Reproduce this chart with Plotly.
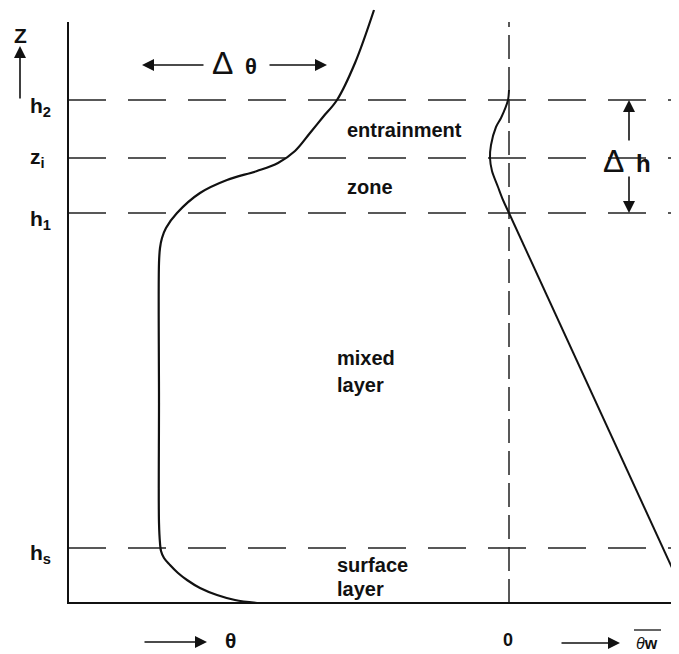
import plotly.graph_objects as go

# ---------------- data (diagram units: x across, z = height above ground) ----------
# mean potential temperature profile Θ(z)
theta_x = [257, 235, 217, 200, 187, 178, 170, 164, 161, 160, 159, 159, 159, 160, 162, 166,
           177, 200, 227, 257, 278, 295, 310, 323, 337, 355, 374]
theta_z = [0, 3, 8, 15, 23, 30, 38, 45, 52, 60, 80, 200, 340, 355, 365, 375,
           390, 410, 423, 432, 440, 452, 470, 486, 503, 540, 593]

# heat flux profile  θw(z)
flux_curve_x = [509, 508, 501, 496, 491, 490, 492, 498, 503, 509]
flux_curve_z = [513, 503, 485, 476, 458, 445, 432, 416, 403, 390]
flux_line_x = [509, 663, 679]
flux_line_z = [390, 55, 20]

# characteristic heights
level_names = ["h<sub>2</sub>", "z<sub>i</sub>", "h<sub>1</sub>", "h<sub>s</sub>"]
level_z = [503, 445, 390, 55]

# region labels
region_text = ["entrainment", "zone", "mixed", "layer", "surface", "layer"]
region_z = [473, 416, 245, 218, 38, 14]

flux_zero = 509
axis_left = 68
axis_top = 581
x_max = 679

FONT = "Liberation Sans, Arial, sans-serif"
INK = "#111111"

fig = go.Figure()

# horizontal dashed levels
for z in level_z:
    fig.add_trace(go.Scatter(x=[axis_left, x_max], y=[z, z], mode="lines",
                             line=dict(color="#222", width=1.5, dash="38px,22px"),
                             hoverinfo="skip", showlegend=False))

# vertical dashed zero line for flux
fig.add_trace(go.Scatter(x=[flux_zero, flux_zero], y=[0, axis_top], mode="lines",
                         line=dict(color="#222", width=1.5, dash="24px,8px"),
                         hoverinfo="skip", showlegend=False))

# axes lines
fig.add_trace(go.Scatter(x=[axis_left, axis_left, x_max], y=[axis_top, 0, 0], mode="lines",
                         line=dict(color=INK, width=2), hoverinfo="skip", showlegend=False))

# theta profile
fig.add_trace(go.Scatter(x=theta_x, y=theta_z, mode="lines",
                         line=dict(color=INK, width=2.2, shape="spline", smoothing=1.0),
                         hoverinfo="skip", showlegend=False))

# flux profile: curved part in the entrainment zone, straight part below
fig.add_trace(go.Scatter(x=flux_curve_x, y=flux_curve_z, mode="lines",
                         line=dict(color=INK, width=2, shape="spline", smoothing=0.8),
                         hoverinfo="skip", showlegend=False))
fig.add_trace(go.Scatter(x=flux_line_x, y=flux_line_z, mode="lines",
                         line=dict(color=INK, width=2),
                         hoverinfo="skip", showlegend=False))

ann = []


def text(x, y, t, size=20, bold=True, xanchor="left", yanchor="middle"):
    ann.append(dict(x=x, y=y, xref="x", yref="y", text=(f"<b>{t}</b>" if bold else t),
                    showarrow=False, xanchor=xanchor, yanchor=yanchor,
                    font=dict(family=FONT, size=size, color=INK)))


def arrow(x0, y0, x1, y1):
    # tail (x0,y0) -> tip (x1,y1)
    ann.append(dict(x=x1, y=y1, ax=x0, ay=y0, xref="x", yref="y", axref="x", ayref="y",
                    text="", showarrow=True, arrowhead=2, arrowsize=1.5, arrowwidth=1.6,
                    arrowcolor=INK))


# Z axis label and arrow
text(20, 568, "Z", size=21, xanchor="center")
arrow(20, 503, 20, 557)

# level labels
label_offsets = [-7, 0, -7, -6]
for name, z, dz in zip(level_names, level_z, label_offsets):
    text(28, z + dz, name, size=21)

# region labels
region_x = [345, 345, 335, 335, 335, 335]
for t, x, z in zip(region_text, region_x, region_z):
    text(x, z, t, size=20)

# Δθ
arrow(205, 538, 142, 538)
arrow(268, 538, 327, 538)
text(222, 540, "Δ", size=32, bold=False, xanchor="center")
text(251, 537, "θ", size=22, xanchor="center")

# Δh
arrow(629, 461, 629, 503)
arrow(629, 428, 629, 390)
text(613, 442, "Δ", size=32, bold=False, xanchor="center")
text(643, 440, "h", size=24, xanchor="center")

# bottom axis labels
arrow(143, -39, 207, -39)
text(230, -37, "θ", size=21, xanchor="center")
text(508, -37, "0", size=18, xanchor="center")
arrow(560, -40, 620, -40)
ann.append(dict(x=647, y=-40, xref="x", yref="y", text="<i>θ</i><b>w</b>", showarrow=False,
                xanchor="center", yanchor="middle",
                font=dict(family=FONT, size=16, color=INK)))

fig.add_shape(type="line", x0=634, x1=661, y0=-27, y1=-27, xref="x", yref="y",
              line=dict(color=INK, width=1.3))

# The page body adds an 8px margin; the figure is sized and its ranges offset
# so that the drawing lands on the same spot as the reference.
fig.update_layout(
    width=671, height=646, autosize=False,
    margin=dict(l=0, r=0, t=0, b=0),
    paper_bgcolor="white", plot_bgcolor="white",
    xaxis=dict(range=[8, 679], visible=False, fixedrange=True),
    yaxis=dict(range=[-51, 595], visible=False, fixedrange=True),
    annotations=ann,
    showlegend=False,
)

fig.write_html("out.html")
